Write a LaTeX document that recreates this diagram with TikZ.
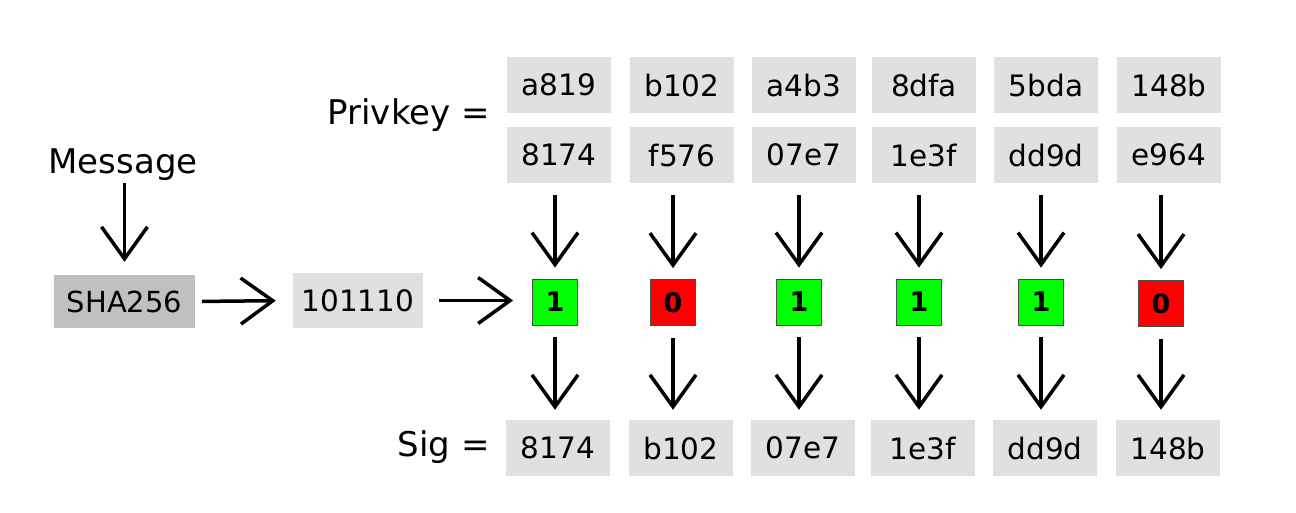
\documentclass[tikz,border=0pt]{standalone}
\usepackage{fontspec}
\setmainfont{DejaVu Sans}
\usetikzlibrary{arrows.meta}
\definecolor{boxgray}{HTML}{E0E0E0}
\definecolor{shagray}{HTML}{C0C0C0}
\definecolor{bitgreen}{HTML}{00FF00}
\definecolor{bitred}{HTML}{FF0000}
\begin{document}
\begin{tikzpicture}[x=1pt,y=-1pt,
  hexbox/.style={fill=boxgray, inner sep=0pt, minimum width=104pt, minimum height=56pt, font=\fontsize{29.5}{32}\selectfont},
  bitbox/.style={draw=black!70, line width=0.8pt, inner sep=0pt, minimum width=45pt, minimum height=46pt, font=\fontsize{27}{30}\selectfont\bfseries},
  onebit/.style={bitbox, fill=bitgreen},
  zerobit/.style={bitbox, fill=bitred},
  biglabel/.style={font=\fontsize{34}{38}\selectfont, inner sep=0pt},
  arr/.style={line width=3.5pt, -{Straight Barb[length=32pt,width=46pt]}}]
\useasboundingbox (0,0) rectangle (1296,512);

\node[biglabel] (msg) at (123,165) {Message};
\node[fill=shagray, inner sep=0pt, minimum width=141pt, minimum height=53pt, font=\fontsize{29}{32}\selectfont] (sha) at (124.5,301.5) {SHA256};
\node[fill=boxgray, inner sep=0pt, minimum width=130pt, minimum height=55pt, font=\fontsize{29.5}{32}\selectfont] (hash) at (358,300.5) {101110};

\node[biglabel, anchor=east] (priv) at (490,115) {Privkey =};
\node[biglabel, anchor=east] (sig) at (490,447) {Sig =};

% private key rows
\node[hexbox] (a1) at (559,85) {a819};
\node[hexbox] (a2) at (682,85) {b102};
\node[hexbox] (a3) at (804,85) {a4b3};
\node[hexbox] (a4) at (924,85) {8dfa};
\node[hexbox] (a5) at (1046,85) {5bda};
\node[hexbox] (a6) at (1169,85) {148b};

\node[hexbox] (k1) at (559,155) {8174};
\node[hexbox] (k2) at (682,155) {f576};
\node[hexbox] (k3) at (804,155) {07e7};
\node[hexbox] (k4) at (924,155) {1e3f};
\node[hexbox] (k5) at (1046,155) {dd9d};
\node[hexbox] (k6) at (1169,155) {e964};

% bits
\node[onebit]  (b1) at (555,302) {1};
\node[zerobit] (b2) at (673,302.5) {0};
\node[onebit]  (b3) at (799,302) {1};
\node[onebit]  (b4) at (919,302) {1};
\node[onebit]  (b5) at (1041,302) {1};
\node[zerobit] (b6) at (1161,303.5) {0};

% signature
\node[hexbox] (s1) at (558,448) {8174};
\node[hexbox] (s2) at (681,448) {b102};
\node[hexbox] (s3) at (803,448) {07e7};
\node[hexbox] (s4) at (923,448) {1e3f};
\node[hexbox] (s5) at (1045,448) {dd9d};
\node[hexbox] (s6) at (1168,448) {148b};

% connectors
\draw[arr, shorten >=13pt, shorten <=2pt] (msg.south -| sha.north) -- (sha.north);
\draw[arr, shorten <=7pt, shorten >=17pt] (sha.east) -- (hash.west);
\draw[arr, shorten <=16pt, shorten >=19pt] (hash.east) -- (hash.east -| b1.west);

\foreach \i in {1,...,6}{
  \draw[arr, shorten <=12pt, shorten >=11pt] (b\i |- k\i.south) -- (b\i.north);
  \draw[arr, shorten <=12pt, shorten >=10pt] (b\i.south) -- (b\i |- s\i.north);
}
\end{tikzpicture}
\end{document}
